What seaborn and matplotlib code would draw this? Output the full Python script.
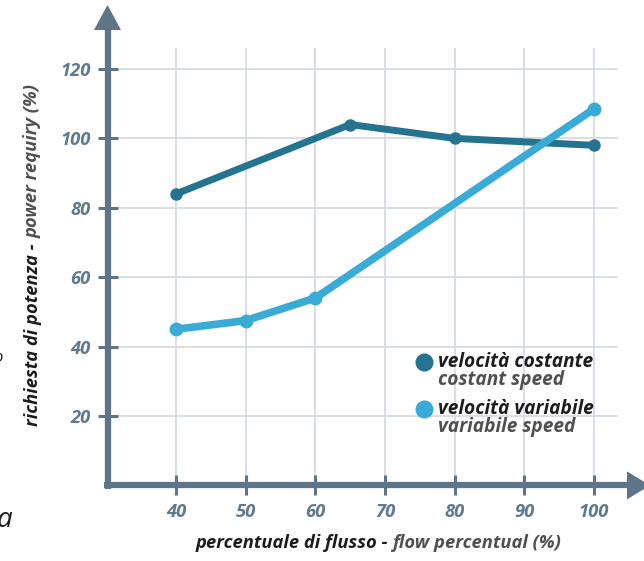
import matplotlib
matplotlib.use("Agg")
import matplotlib.pyplot as plt
from matplotlib.patches import Polygon
from matplotlib.lines import Line2D
import seaborn as sns
import pandas as pd

# Data
const_flow = [40, 65, 80, 100]
const_power = [84, 104, 100, 98]
var_flow = [40, 50, 60, 100]
var_power = [45, 47.5, 54, 108.5]
x_ticks = [40, 50, 60, 70, 80, 90, 100]
y_ticks = [20, 40, 60, 80, 100, 120]
legend_it = ["velocità costante", "velocità variabile"]
legend_en = ["costant speed", "variabile speed"]
xlabel_it = "percentuale di flusso - "
xlabel_en = "flow percentual (%)"
ylabel_it = "richiesta di potenza - "
ylabel_en = "power requiry (%)"

DARK = "#24748f"
LIGHT = "#3aaad7"
AXIS = "#5e7489"
TICKTXT = "#5f7a8f"
GRID = "#d9dee4"
BLACK = "#1c1c1c"
GRAY = "#505050"

sns.set_theme(style="white")
plt.rcParams["font.family"] = ["Open Sans", "DejaVu Sans"]

fig = plt.figure(figsize=(6.44, 5.61), dpi=100)
W, H = 644, 561
ax = fig.add_axes([107.5 / W, (H - 485.4) / H, 542.5 / W, 480.4 / H])
ax.set_xlim(30.17, 108.04)
ax.set_ylim(0, 138.44)
for s in ax.spines.values():
    s.set_visible(False)
ax.patch.set_alpha(0)

# grid
ax.vlines(x_ticks, 0, 126, color=GRID, lw=1.4, zorder=0)
ax.hlines(y_ticks, 30.17, 103.5, color=GRID, lw=1.4, zorder=0)

# series
df_c = pd.DataFrame({"flow": const_flow, "power": const_power})
df_v = pd.DataFrame({"flow": var_flow, "power": var_power})
sns.lineplot(data=df_c, x="flow", y="power", ax=ax, color=DARK, lw=5,
             marker="o", markersize=9, markeredgewidth=0, zorder=3)
sns.lineplot(data=df_v, x="flow", y="power", ax=ax, color=LIGHT, lw=5.5,
             marker="o", markersize=10, markeredgewidth=0, zorder=4)

# axes with arrow heads
ax.add_line(Line2D([0, 0], [-3.5 / 480.4, 0.95], transform=ax.transAxes,
                   color=AXIS, lw=4.5, clip_on=False, solid_capstyle="butt", zorder=5))
ax.add_line(Line2D([-3.5 / 542.5, 0.958], [0, 0], transform=ax.transAxes,
                   color=AXIS, lw=4.5, clip_on=False, solid_capstyle="butt", zorder=5))
ax.add_patch(Polygon([(0, 1), (-13.5 / 542.5, 0.948), (13.5 / 542.5, 0.948)],
                     closed=True, transform=ax.transAxes, color=AXIS,
                     clip_on=False, lw=0, zorder=5))
ax.add_patch(Polygon([(1, 0), (0.9576, 14 / 480.4), (0.9576, -14 / 480.4)],
                     closed=True, transform=ax.transAxes, color=AXIS,
                     clip_on=False, lw=0, zorder=5))

# ticks
ax.set_xticks(x_ticks)
ax.set_yticks(y_ticks)
ax.set_xticklabels([str(v) for v in x_ticks])
ax.set_yticklabels([str(v) for v in y_ticks])
ax.tick_params(axis="both", direction="inout", length=14.5, width=2.2,
               color=AXIS, labelcolor=TICKTXT, labelsize=13.2)
ax.tick_params(axis="x", bottom=True, pad=5.5)
ax.tick_params(axis="y", left=True, pad=4.8)
for lab in ax.get_xticklabels() + ax.get_yticklabels():
    lab.set_fontweight("bold")
    lab.set_fontstyle("italic")
ax.set_xlabel("")
ax.set_ylabel("")

fp = dict(fontweight="bold", fontstyle="italic")
LAB = 13.2

# x axis title (two tones), centred as a whole
t1 = fig.text(0, 1 - 543 / H, xlabel_it, color=BLACK, fontsize=LAB,
              ha="left", va="center", **fp)
t1b = fig.text(0, 1 - 543 / H, xlabel_en, color=GRAY, fontsize=LAB,
               ha="left", va="center", **fp)
fig.canvas.draw()
w1 = t1.get_window_extent().width
w2 = t1b.get_window_extent().width
x0 = 379 - (w1 + w2) / 2
t1.set_x(x0 / W)
t1b.set_x((x0 + w1) / W)

# y axis title (two tones), centred as a whole
t2 = fig.text(33 / W, 0, ylabel_it, color=BLACK, fontsize=LAB,
              rotation=90, ha="center", va="bottom", **fp)
t2b = fig.text(33 / W, 0, ylabel_en, color=GRAY, fontsize=LAB,
               rotation=90, ha="center", va="bottom", **fp)
fig.canvas.draw()
h1 = t2.get_window_extent().height
h2 = t2b.get_window_extent().height
yb = (H - 255) - (h1 + h2) / 2
t2.set_y(yb / H)
t2b.set_y((yb + h1) / H)

# legend
for i, (it, en) in enumerate(zip(legend_it, legend_en)):
    yc = 362 + i * 47
    col = DARK if i == 0 else LIGHT
    fig.add_artist(Line2D([424 / W], [1 - yc / H], marker="o", markersize=13,
                          color=col, markeredgewidth=0, transform=fig.transFigure))
    fig.text(437.5 / W, 1 - yc / H, it, color=BLACK, fontsize=13.8,
             ha="left", va="center", **fp)
    fig.text(437.5 / W, 1 - (yc + 18) / H, en, color=GRAY, fontsize=13.8,
             ha="left", va="center", **fp)

# text fragments at the left margin
fig.text(12 / W, 1 - 520 / H, "a", color=BLACK, fontsize=20, fontstyle="italic",
         ha="right", va="center")
fig.text(3 / W, 1 - 358 / H, "o", color=BLACK, fontsize=12, fontstyle="italic",
         ha="right", va="center")

fig.savefig("out.png", dpi=100)
